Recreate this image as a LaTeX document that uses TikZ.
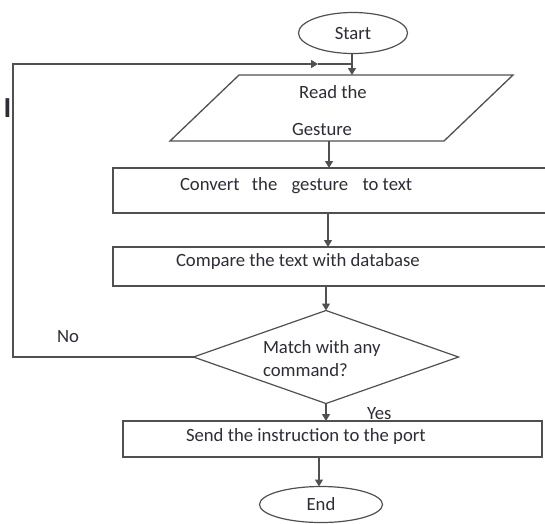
\documentclass[tikz,border=0pt]{standalone}
\usepackage{fontspec}
\setmainfont{Carlito}
\usetikzlibrary{shapes.geometric,arrows.meta}
\definecolor{linec}{RGB}{80,80,80}
\definecolor{textc}{RGB}{45,45,55}
\tikzset{
  x=1pt, y=-1pt,
  every node/.style={inner sep=0pt, outer sep=0pt, text=textc, font=\fontsize{18.7}{22}\selectfont},
  lbl/.style={anchor=base west},
  lblc/.style={anchor=base},
  terminal/.style={ellipse, draw=linec, line width=1.2pt, minimum width=#1, minimum height=38pt},
  procbox/.style={draw=linec, line width=1.3pt},
  flow/.style={draw=linec, line width=1.3pt, -{Triangle[length=7pt,width=8pt]}},
  plain/.style={draw=linec, line width=1.3pt},
}
\begin{document}
\begin{tikzpicture}
\clip (0,0) rectangle (545,523);
\fill[white] (0,0) rectangle (545,523);
% start
\node[terminal=109pt, minimum height=41pt] (start) at (353,33) {Start};
% parallelogram
\draw[procbox] (239,75) -- (513,75) -- (444,141) -- (170,141) -- cycle;
\node[minimum width=274pt, minimum height=66pt] (read) at (341.5,108) {};
\node[lblc] (readt1) at (333,98) {Read the};
\node[lblc] (readt2) at (322,135) {Gesture};
% convert box
\node[procbox, rectangle, minimum width=436pt, minimum height=45pt, anchor=north west] (conv) at (113,168) {};
\node[lbl] (convt) at (180,190) {Convert\hspace{8pt} the\hspace{10pt} gesture\hspace{10pt} to text};
% compare box
\node[procbox, rectangle, minimum width=436pt, minimum height=39pt, anchor=north west] (comp) at (113,247) {};
\node[lbl] (compt) at (176,266) {Compare the text with database};
% decision
\node[diamond, draw=linec, line width=1.2pt, minimum width=265pt, minimum height=93pt] (dec) at (326,357) {};
\node[lbl] (dect1) at (263,353) {Match with any};
\node[lbl] (dect2) at (263,376) {command?};
\node[lbl] (no) at (57,342) {No};
\node[lbl] (yes) at (367,419) {Yes};
% send box
\node[procbox, rectangle, minimum width=419pt, minimum height=36pt, anchor=north west] (send) at (123,421) {};
\node[lbl] (sendt) at (186,441) {Send the instruction to the port};
% end
\node[terminal=123pt, minimum height=36pt] (end) at (321,504.5) {End};
% stray mark
\node[font=\fontsize{29}{30}\selectfont\bfseries] (mark) at (7.5,108.5) {I};
% connectors
\coordinate (join) at (352,64);
\coordinate (readin) at (352,75);
\coordinate (readout) at (329,141);
\coordinate (convout) at (328,213);
\coordinate (compin) at (328,247);
\coordinate (compout) at (326,286);
\coordinate (sendin) at (326,421);
\coordinate (sendout) at (319,457);
\coordinate (endin) at (319,486.5);
\coordinate (loopcorner) at (13,357);
\coordinate (looparrow) at (318,64);
\draw[flow] (start.south -| join) -- (readin);
\draw[flow] (readout) -- (readout |- conv.north);
\draw[flow] (convout) -- (compin);
\draw[flow] (compout) -- (dec.north);
\draw[flow] (dec.south) -- (sendin);
\draw[flow] (sendout) -- (endin);
\draw[flow] (dec.west) -- (loopcorner) |- (looparrow);
\draw[plain] (looparrow) -- (join);
\end{tikzpicture}
\end{document}
